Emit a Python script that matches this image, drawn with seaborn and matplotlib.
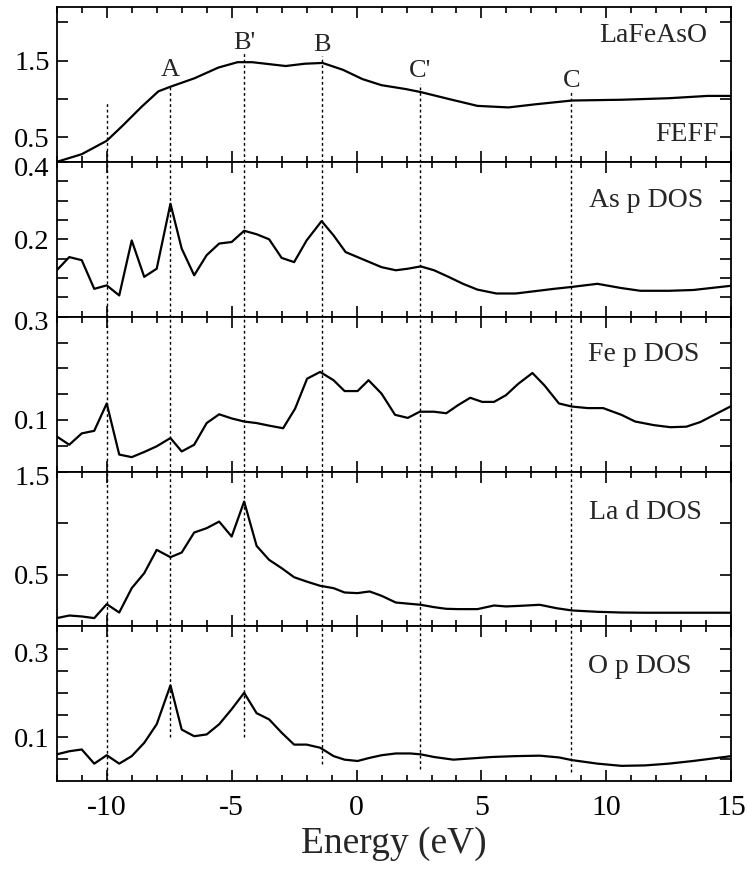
import numpy as np
import pandas as pd
import matplotlib
matplotlib.use("Agg")
import matplotlib.pyplot as plt
import matplotlib.transforms as mtransforms
from matplotlib.ticker import MultipleLocator
import seaborn as sns

# ---------------- data ----------------
feff_E = [-12.0, -11.0, -10.0, -9.37, -8.6, -7.93, -7.45, -6.49, -5.53, -4.76, -4.18,
          -2.84, -2.07, -1.36, -0.54, 0.23, 1.0, 1.96, 2.57, 3.69, 4.84, 6.08, 7.14,
          8.62, 10.6, 12.5, 14.05, 15.0]
feff_v = [0.18, 0.28, 0.455, 0.65, 0.90, 1.10, 1.16, 1.27, 1.41, 1.48, 1.48,
          1.43, 1.46, 1.47, 1.38, 1.26, 1.18, 1.13, 1.09, 1.00, 0.91, 0.89, 0.93,
          0.98, 0.99, 1.01, 1.04, 1.04]

as_E = [-12.0, -11.5, -11.0, -10.5, -10.0, -9.5, -9.0, -8.5, -8.0, -7.45, -7.0, -6.5,
        -6.0, -5.5, -5.0, -4.5, -4.0, -3.5, -3.0, -2.5, -2.0, -1.4, -0.92, -0.44,
        0.04, 0.52, 1.0, 1.57, 2.05, 2.57, 3.1, 3.68, 4.26, 4.84, 5.6, 6.37, 7.14,
        7.9, 8.62, 9.64, 10.6, 11.36, 12.5, 13.47, 15.0]
as_v = [0.12, 0.154, 0.146, 0.072, 0.081, 0.055, 0.197, 0.103, 0.124, 0.292, 0.176,
        0.107, 0.159, 0.189, 0.193, 0.222, 0.213, 0.200, 0.152, 0.141, 0.197, 0.247,
        0.210, 0.167, 0.154, 0.141, 0.128, 0.120, 0.124, 0.130, 0.120, 0.103, 0.085,
        0.070, 0.060, 0.060, 0.066, 0.072, 0.077, 0.085, 0.074, 0.067, 0.067, 0.069,
        0.080]

fe_E = [-12.0, -11.5, -11.0, -10.5, -10.0, -9.5, -9.0, -8.5, -8.0, -7.45, -7.0, -6.5,
        -6.0, -5.5, -5.0, -4.5, -4.0, -3.5, -2.94, -2.46, -1.98, -1.46, -0.92, -0.48,
        0.04, 0.48, 1.0, 1.54, 2.05, 2.53, 3.1, 3.59, 4.07, 4.55, 5.03, 5.5, 5.98,
        6.47, 7.04, 7.52, 8.1, 8.62, 9.25, 9.87, 10.6, 11.15, 11.9, 12.56, 13.2,
        13.76, 15.0]
fe_v = [0.068, 0.052, 0.074, 0.079, 0.132, 0.033, 0.028, 0.038, 0.049, 0.065, 0.039,
        0.052, 0.094, 0.111, 0.103, 0.097, 0.094, 0.089, 0.084, 0.122, 0.180, 0.193,
        0.177, 0.156, 0.156, 0.177, 0.151, 0.110, 0.104, 0.116, 0.116, 0.113, 0.129,
        0.143, 0.135, 0.135, 0.148, 0.170, 0.191, 0.167, 0.132, 0.126, 0.123, 0.123,
        0.110, 0.097, 0.090, 0.086, 0.087, 0.096, 0.127]

la_E = [-12.0, -11.5, -11.0, -10.5, -10.0, -9.5, -9.0, -8.5, -8.0, -7.45, -7.0, -6.5,
        -6.0, -5.5, -5.0, -4.5, -4.0, -3.5, -3.0, -2.5, -2.0, -1.46, -0.92, -0.48,
        0.04, 0.52, 1.0, 1.57, 2.15, 2.57, 3.1, 3.59, 4.07, 4.84, 5.5, 5.98, 6.56,
        7.33, 8.0, 8.62, 9.64, 10.6, 11.55, 12.5, 13.47, 15.0]
la_v = [0.081, 0.106, 0.097, 0.081, 0.216, 0.135, 0.371, 0.516, 0.742, 0.671, 0.716,
        0.910, 0.952, 1.016, 0.871, 1.210, 0.780, 0.645, 0.565, 0.477, 0.435, 0.394,
        0.371, 0.329, 0.323, 0.339, 0.297, 0.232, 0.219, 0.210, 0.187, 0.171, 0.168,
        0.168, 0.203, 0.194, 0.200, 0.210, 0.177, 0.155, 0.142, 0.135, 0.133, 0.133,
        0.133, 0.133]

o_E = [-12.0, -11.5, -11.0, -10.5, -10.0, -9.5, -9.0, -8.5, -8.0, -7.45, -7.0, -6.5,
       -6.0, -5.5, -5.0, -4.5, -4.0, -3.5, -3.0, -2.5, -2.0, -1.46, -0.92, -0.48,
       0.04, 0.52, 1.0, 1.57, 2.15, 2.57, 3.1, 3.87, 4.64, 5.41, 6.37, 7.33, 8.1,
       8.62, 9.64, 10.6, 11.55, 12.5, 13.47, 15.0]
o_v = [0.061, 0.068, 0.072, 0.040, 0.059, 0.040, 0.057, 0.087, 0.129, 0.217, 0.117,
       0.102, 0.106, 0.129, 0.163, 0.200, 0.154, 0.140, 0.110, 0.083, 0.083, 0.076,
       0.057, 0.049, 0.046, 0.053, 0.059, 0.063, 0.063, 0.061, 0.055, 0.049, 0.052,
       0.055, 0.057, 0.058, 0.054, 0.048, 0.040, 0.035, 0.036, 0.040, 0.046, 0.057]

panel_names = ["LaFeAsO", "As p DOS", "Fe p DOS", "La d DOS", "O p DOS"]
feature_labels = ["A", "B'", "B", "C'", "C"]
feature_E = [-7.45, -4.5, -1.4, 2.55, 8.6]
feature_label_y = [1.38, 1.73, 1.70, 1.36, 1.23]
guide_E = [-10.0, -7.45, -4.5, -1.4, 2.55, 8.6]
guide_top_panel_max = [0.98, 1.16, 1.60, 1.56, 1.19, 1.09]
guide_bottom_panel_min = [0.0, 0.10, 0.10, 0.04, 0.028, 0.022]

ylims = [(0.18, 2.2), (0.0, 0.4), (0.0, 0.3), (0.0, 1.5), (0.0, 0.35)]
yticks = [[0.5, 1.0, 1.5, 2.0],
          [0.05, 0.1, 0.15, 0.2, 0.25, 0.3, 0.35, 0.4],
          [0.05, 0.1, 0.15, 0.2, 0.25, 0.3],
          [0.5, 1.0, 1.5],
          [0.05, 0.1, 0.15, 0.2, 0.25, 0.3]]
ylabeled = [["0.5", "1.5"], ["0.2", "0.4"], ["0.1", "0.3"], ["0.5", "1.5"], ["0.1", "0.3"]]
name_y = [1.83, 0.299, 0.226, 1.10, 0.26]
name_x = [14.05, 13.88, 13.72, 13.84, 13.4]
x_ticks = [-10, -5, 0, 5, 10, 15]

series = [(feff_E, feff_v), (as_E, as_v), (fe_E, fe_v), (la_E, la_v), (o_E, o_v)]

# ---------------- style ----------------
sns.set_style("ticks")
plt.rcParams["font.family"] = ["Liberation Serif", "DejaVu Serif"]
plt.rcParams["axes.unicode_minus"] = False

fig, axes = plt.subplots(5, 1, figsize=(7.47, 8.73), dpi=100, sharex=True)
fig.subplots_adjust(left=0.076, right=0.979, top=0.992, bottom=0.105, hspace=0)

dash = (0, (2.0, 2.0))
for i, ax in enumerate(axes):
    E, v = series[i]
    df = pd.DataFrame({"Energy": E, "val": v})
    sns.lineplot(data=df, x="Energy", y="val", ax=ax, color="black", lw=1.6,
                 estimator=None, sort=False)
    ax.set_xlim(-12, 15)
    ax.set_ylim(*ylims[i])
    ax.set_ylabel("")
    ax.set_xlabel("")
    ylo, yhi = ylims[i]
    for k, xe in enumerate(guide_E):
        if i == 0:
            ax.vlines(xe, ylo, guide_top_panel_max[k], colors="black", lw=1.0, linestyles=[dash])
        elif i == 4:
            ax.vlines(xe, guide_bottom_panel_min[k], yhi, colors="black", lw=1.0, linestyles=[dash])
        else:
            ax.vlines(xe, ylo, yhi, colors="black", lw=1.0, linestyles=[dash])

    ax.set_yticks(yticks[i])
    ax.set_yticklabels([("%g" % t if ("%g" % t) in ylabeled[i] else "") for t in yticks[i]])
    ax.set_xticks(x_ticks)
    ax.xaxis.set_minor_locator(MultipleLocator(1))
    ax.tick_params(axis="both", which="both", direction="in", top=True, right=True,
                   width=1.2, colors="black")
    ax.tick_params(axis="y", which="major", length=8, labelsize=20.5, pad=5)
    ax.tick_params(axis="x", which="major", length=8, labelsize=21.5, pad=10)
    ax.tick_params(axis="x", which="minor", length=4.5)
    for s in ax.spines.values():
        s.set_linewidth(1.3)
        s.set_color("black")
    ax.text(name_x[i], name_y[i], panel_names[i], ha="right", va="center", fontsize=20)

# nudge the top-of-panel labels slightly below the shared border (as in the reference)
shift = mtransforms.ScaledTranslation(0, -3 / 72, fig.dpi_scale_trans)
for ax in axes[1:]:
    labs = ax.get_yticklabels()
    labs[-1].set_transform(labs[-1].get_transform() + shift)

axes[0].text(14.5, 0.54, "FEFF", ha="right", va="center", fontsize=20)
for lab, xe, ye in zip(feature_labels, feature_E, feature_label_y):
    axes[0].text(xe, ye, lab, ha="center", va="center", fontsize=19)

axes[-1].set_xlabel("Energy (eV)", fontsize=27, labelpad=4)

fig.savefig("out.png", dpi=100, facecolor="white")
